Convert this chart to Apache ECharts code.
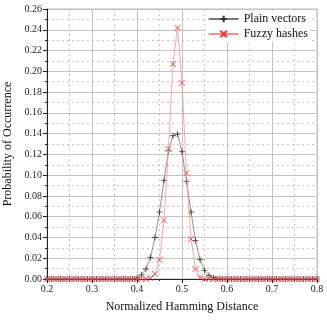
<!DOCTYPE html>
<html>
<head>
<meta charset="utf-8">
<script src="https://cdn.jsdelivr.net/npm/echarts@6/dist/echarts.min.js"></script>
<style>html,body{margin:0;padding:0;background:#fff;}#c{width:327px;height:327px;}</style>
</head>
<body>
<div id="c"></div>
<script>
var distances = [0.20,0.21,0.22,0.23,0.24,0.25,0.26,0.27,0.28,0.29,
  0.30,0.31,0.32,0.33,0.34,0.35,0.36,0.37,0.38,0.39,
  0.40,0.41,0.42,0.43,0.44,0.45,0.46,0.47,0.48,0.49,
  0.50,0.51,0.52,0.53,0.54,0.55,0.56,0.57,0.58,0.59,
  0.60,0.61,0.62,0.63,0.64,0.65,0.66,0.67,0.68,0.69,
  0.70,0.71,0.72,0.73,0.74,0.75,0.76,0.77,0.78,0.79,0.80];
var plainVectors = [0,0,0,0,0,0,0,0,0,0,
  0,0,0,0,0,0,0,0,0,0,
  0.001,0.004,0.0096,0.0208,0.040,0.0645,0.095,0.1235,0.138,0.1396,
  0.1226,0.094,0.0645,0.037,0.0186,0.0083,0.0035,0.0013,0.0003,0,
  0,0,0,0,0,0,0,0,0,0,
  0,0,0,0,0,0,0,0,0,0,0];
var fuzzyHashes = [0,0,0,0,0,0,0,0,0,0,
  0,0,0,0,0,0,0,0,0,0,
  0,0,0,0.001,0.0048,0.0186,0.0565,0.1255,0.207,0.242,
  0.189,0.102,0.0385,0.0096,0.0015,0.0002,0,0,0,0,
  0,0,0,0,0,0,0,0,0,0,
  0,0,0,0,0,0,0,0,0,0,0];
var seriesNames = ['Plain vectors','Fuzzy hashes'];
var xTitle = 'Normalized Hamming Distance';
var yTitle = 'Probability of Occurrence';

function pairs(ys){ return distances.map(function(x,i){ return [x, ys[i]]; }); }
var serif = '"Liberation Serif","DejaVu Serif",serif';
var chart = echarts.init(document.getElementById('c'), null, {renderer:'canvas'});
var axisCommon = {
  axisLine:{show:true, onZero:false, lineStyle:{color:'#222', width:1}},
  axisTick:{show:true, inside:false, length:4, lineStyle:{color:'#222'}},
  minorTick:{show:true, splitNumber:2, length:2, lineStyle:{color:'#222'}},
  splitLine:{show:true, lineStyle:{color:'#c4c4c4', width:1}},
  minorSplitLine:{show:true, lineStyle:{color:'#c8c8c8', width:1, type:[2,3]}},
  nameTextStyle:{fontFamily:serif, fontSize:12, color:'#111'}
};
chart.setOption({
  animation:false,
  backgroundColor:'#fff',
  grid:{left:47, right:10, top:9, bottom:48, show:true, borderColor:'#bbb', borderWidth:1,
        containLabel:false, outerBoundsMode:'none'},
  legend:{
    right:17, top:11, orient:'vertical', itemGap:3, itemWidth:30, itemHeight:8,
    backgroundColor:'#fff', padding:[2,2,2,2],
    textStyle:{fontFamily:serif, fontSize:12, color:'#111'},
    data:seriesNames
  },
  xAxis:Object.assign({}, axisCommon, {
    type:'value', min:0.2, max:0.8, interval:0.1,
    name:xTitle, nameLocation:'middle', nameGap:22,
    axisLabel:{fontFamily:serif, fontSize:10, color:'#222', margin:5, formatter:function(v){return v.toFixed(1);}}
  }),
  yAxis:Object.assign({}, axisCommon, {
    type:'value', min:0, max:0.26, interval:0.02,
    name:yTitle, nameLocation:'middle', nameGap:26,
    axisLabel:{fontFamily:serif, fontSize:10, color:'#222', margin:5, formatter:function(v){return v.toFixed(2);}}
  }),
  series:[
    {
      name:seriesNames[0], type:'line', data:pairs(plainVectors),
      symbol:'path://M0,5L10,5M5,0L5,10', symbolSize:6, showAllSymbol:true,
      lineStyle:{color:'#777', width:0.8},
      itemStyle:{color:'none', borderColor:'#333', borderWidth:0.8},
      z:2
    },
    {
      name:seriesNames[1], type:'line', data:pairs(fuzzyHashes),
      symbol:'path://M0,0L10,10M10,0L0,10', symbolSize:6, showAllSymbol:true,
      lineStyle:{color:'#ff8f8f', width:0.8},
      itemStyle:{color:'none', borderColor:'#ff3030', borderWidth:0.8},
      z:3
    }
  ]
});
</script>
</body>
</html>
